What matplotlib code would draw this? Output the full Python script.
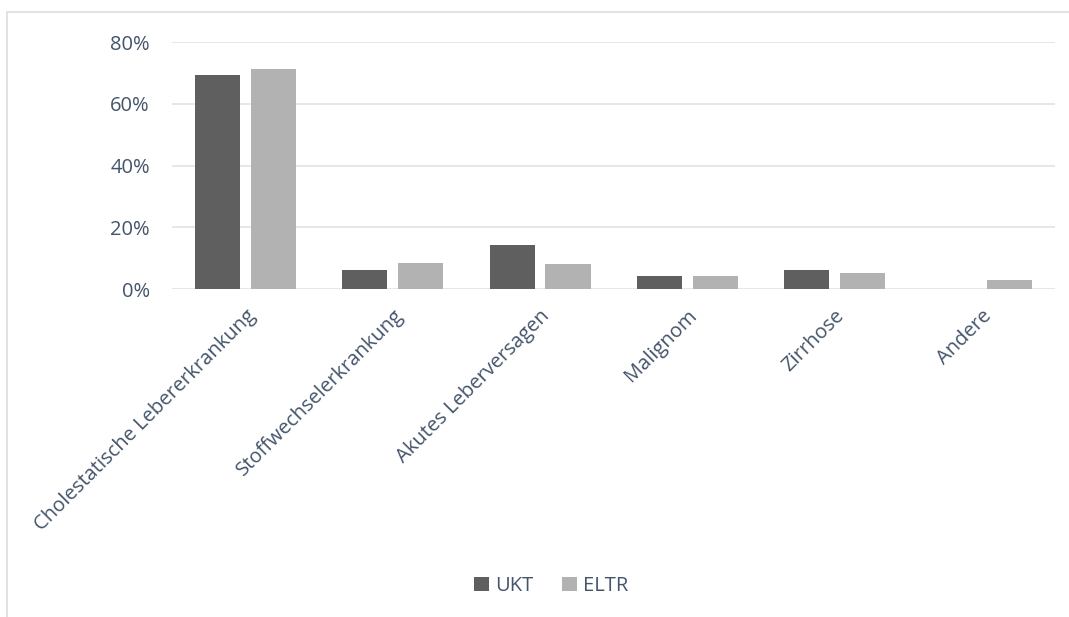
import matplotlib.pyplot as plt
import numpy as np
from matplotlib.patches import Rectangle
from matplotlib.ticker import PercentFormatter

categories = ["Cholestatische Lebererkrankung", "Stoffwechselerkrankung",
              "Akutes Leberversagen", "Malignom", "Zirrhose", "Andere"]
ukt = [69.3, 6.2, 14.2, 4.1, 6.2, 0.0]
eltr = [71.3, 8.4, 8.1, 4.2, 5.2, 2.9]

text_color = "#44546A"
plt.rcParams["font.family"] = ["Open Sans", "DejaVu Sans"]

fig = plt.figure(figsize=(10.69, 6.17), dpi=100)
ax = fig.add_axes([0.161, 0.5316, 0.826, 0.4003])

# outer chart border
fig.patches.append(Rectangle((7 / 1069, -0.1), 1.1, 0.1 + (1 - 12 / 617),
                             transform=fig.transFigure, fill=False,
                             edgecolor="#d9dde3", linewidth=1.2))

x = np.arange(len(categories))
w = 0.306
off = w / 2 + 0.037
ax.bar(x - off, ukt, w, color="#5f5f5f", label="UKT", zorder=3)
ax.bar(x + off, eltr, w, color="#b2b2b2", label="ELTR", zorder=3)

ax.set_xlim(-0.5, len(categories) - 0.5)
ax.set_ylim(0, 80)
ax.set_yticks([0, 20, 40, 60, 80])
ax.yaxis.set_major_formatter(PercentFormatter(decimals=0))
ax.grid(axis="y", color="#dfe3e8", linewidth=1.2, zorder=0)
for s in ax.spines.values():
    s.set_visible(False)
ax.tick_params(length=0, labelsize=14.5, labelcolor=text_color)
ax.tick_params(axis="y", pad=16)
ax.tick_params(axis="x", pad=12)
ax.set_xticks(x)
ax.set_xticklabels(categories, rotation=45, ha="right", rotation_mode="anchor")
for lbl in ax.get_xticklabels():
    lbl.set_x(lbl.get_position()[0] + 0.05)

fig.legend(loc="center", bbox_to_anchor=(551 / 1069, 1 - 586 / 617), ncol=2,
           frameon=False, fontsize=14.5, labelcolor=text_color, handlelength=0.75,
           handleheight=0.75, handletextpad=0.3, columnspacing=1.4)

fig.savefig("out.png", dpi=100)
